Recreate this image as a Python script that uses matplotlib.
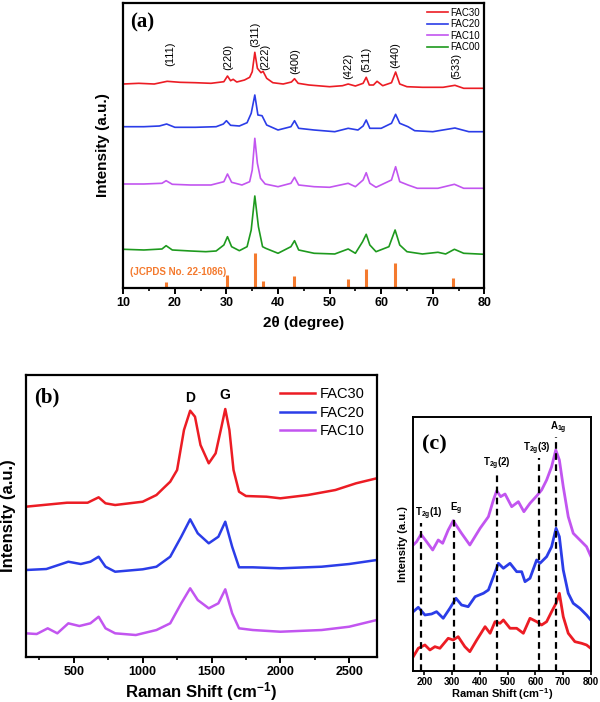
import numpy as np
import matplotlib.pyplot as plt

plt.rcParams['font.family'] = ['Liberation Sans', 'DejaVu Sans']
plt.rcParams['mathtext.fontset'] = 'custom'
plt.rcParams['mathtext.rm'] = 'Liberation Sans:bold'
plt.rcParams['mathtext.bf'] = 'Liberation Sans:bold'
plt.rcParams['mathtext.it'] = 'Liberation Sans:bold'

# ---- (a) XRD, 2theta / intensity (arb.) ----
xrd_30_t = [10, 13, 16, 18.5, 21, 24, 27, 29.5, 30.2, 30.8, 31.3, 32, 33.5, 34.5, 35.0, 35.5, 36.0, 36.7, 37.1,
            37.8, 39, 41, 42.6, 43.2, 43.9, 46, 50, 52.5, 53.6, 55, 56.5, 57.1, 57.7, 58.5, 59.2, 60.3, 62, 62.8,
            63.6, 65, 68, 72, 74.3, 76, 80]
xrd_30_i = [203.7, 204.4, 203.7, 206.4, 205.4, 205, 204.4, 206, 211.7, 207, 208.4, 205.7, 207.7, 210.4, 216, 235.4,
            219.4, 215, 216.4, 209.4, 205, 203.7, 205.7, 209, 204.4, 202.7, 201, 202, 203.7, 201.7, 204.4, 210.4,
            202.7, 202.7, 206.4, 202, 205, 215.7, 203.7, 201, 200.4, 200.4, 202.4, 199.4, 199.4]

xrd_20_t = [10, 14, 17, 18.4, 20, 24, 28, 29.4, 30, 30.8, 32.5, 34, 34.8, 35.5, 36.1, 36.9, 37.8, 40, 42.5, 43.2,
            44, 47, 51, 53.6, 55.5, 56.5, 57.1, 57.8, 60, 62, 62.8, 63.6, 65.2, 66.5, 70, 74.3, 77, 80]
xrd_20_i = [161, 161, 161.7, 163.7, 160.4, 160.4, 161, 163.7, 167, 162.4, 161.7, 165, 174.4, 192.7, 172.7, 172,
            162.7, 157.7, 161, 167, 159.4, 157.7, 156, 159.4, 157.7, 161.7, 167.7, 159.4, 159.4, 164.4, 173.4,
            164.4, 161, 157, 156, 159.7, 156, 156]

xrd_10_t = [10, 14, 17.5, 18.3, 19.5, 23, 27, 29.5, 30.2, 31, 33, 34.5, 35.0, 35.5, 36.0, 36.6, 37.5, 40, 42.5,
            43.2, 44, 47, 50, 53.6, 55, 56.5, 57.1, 57.8, 59, 62, 62.8, 63.6, 65.2, 67, 71, 74.2, 76, 80]
xrd_10_i = [103.7, 103.7, 104.4, 107, 103.4, 102.7, 102.7, 106, 113.7, 105.4, 102.7, 106, 117.7, 149.4, 124.4,
            109.4, 103.7, 101, 104.4, 110.4, 102.7, 101, 100.4, 104.4, 101, 107.7, 115, 104.4, 100.4, 107.7, 121,
            106, 102.7, 99.4, 99.4, 103.4, 99.4, 99.4]

xrd_00_t = [10, 14, 17.5, 18.3, 19.5, 23, 26, 28, 29.5, 30.2, 31, 32.5, 34, 34.8, 35.5, 36.2, 37, 37.6, 40, 42.5,
            43.2, 44, 47, 51, 53.6, 55, 56.4, 57.1, 57.8, 59, 61.5, 62.7, 63.6, 65, 68, 71, 72.5, 74.2, 76, 80]
xrd_00_i = [38.4, 37.7, 38.7, 42, 37.7, 36.7, 36, 36.7, 42.7, 51, 41, 37, 41, 57.7, 91.7, 61, 41, 39.4, 34.4, 41,
            47, 37.7, 34.4, 33.7, 38.7, 34.4, 46, 53.4, 42.7, 36, 41, 57.7, 42.7, 36, 33.7, 35.4, 33.7, 38.4, 34.4,
            33.4]

jcpds_t = [18.3, 30.1, 35.5, 37.1, 43.1, 53.5, 57.0, 62.6, 74.0]
jcpds_i = [5.4, 12.4, 35, 6.7, 11.7, 8.7, 18.7, 25, 9.7]

hkl = ['(111)', '(220)', '(311)', '(222)', '(400)', '(422)', '(511)', '(440)', '(533)']
hkl_t = [19.2, 30.4, 35.5, 37.5, 43.3, 53.6, 57.2, 62.8, 74.5]
hkl_y = [222, 217.7, 241, 217.7, 213.7, 208.7, 215.4, 219.4, 208.4]

# ---- (b) Raman, full range ----
rb_x = [150, 300, 450, 600, 680, 730, 800, 1000, 1100, 1150, 1200, 1250, 1300, 1345, 1380, 1420, 1480, 1530,
        1570, 1600, 1630, 1660, 1700, 1750, 1900, 2000, 2200, 2400, 2550, 2700]
rb_30 = [150, 152, 154, 154, 159.4, 153.4, 151.7, 155, 161.7, 168.4, 175, 186.7, 226.7, 246, 240, 211.7, 193.4,
         203.4, 228.4, 247.7, 226.7, 186.7, 165, 160.7, 160, 158.4, 161.7, 166.7, 173.4, 178.4]
rb20_x = [150, 300, 460, 550, 620, 680, 730, 800, 1000, 1100, 1200, 1280, 1345, 1400, 1480, 1550, 1600, 1650,
          1700, 1800, 2000, 2300, 2500, 2700]
rb_20 = [86.7, 87.7, 95, 92.7, 95, 100, 90, 85, 87.4, 90, 100, 120, 137.4, 123.4, 113.4, 120, 135, 110, 89.4,
         89.4, 88.4, 90, 92.7, 96.7]
rb10_x = [150, 230, 310, 380, 460, 540, 620, 680, 730, 800, 950, 1100, 1200, 1280, 1345, 1400, 1480, 1550, 1600,
          1650, 1700, 1800, 2000, 2300, 2500, 2700]
rb_10 = [23.4, 22.7, 28.4, 23.4, 33.4, 30.7, 33.4, 40, 28.4, 23.4, 21.7, 26.7, 33.4, 53.4, 68.4, 56.7, 48.4, 53.4,
         67.4, 43.4, 28.4, 26.7, 25, 26.7, 30, 36.7]

# ---- (c) Raman, low wavenumber ----
rc_x = [160, 172, 188, 208, 230, 250, 266, 286, 304, 334, 364, 401, 431, 449, 461, 475, 491, 515, 539, 559, 581,
        605, 623, 641, 659, 674, 687, 701, 719, 737, 761, 785, 800]
rc_10 = [126, 129.3, 136.7, 129.3, 121, 131, 127.7, 141, 150.3, 137.7, 126, 142.7, 154.3, 171, 180.3, 174.3, 177,
         164.3, 169.3, 159.3, 167.7, 175, 181, 191, 204.3, 221, 211, 184.3, 154.3, 137.7, 131, 124.3, 115]
rc20_x = [160, 178, 202, 226, 244, 268, 292, 314, 334, 358, 383, 413, 431, 449, 467, 485, 509, 533, 551, 563, 581,
          605, 617, 641, 659, 675, 687, 701, 719, 737, 761, 785, 800]
rc_20 = [59.3, 63.7, 56, 57, 59.3, 52.7, 62.7, 72.7, 66, 64.3, 74.3, 77.7, 81, 94.3, 107.7, 102.7, 107.7, 99.3,
         99.3, 89.3, 92.7, 111, 107.7, 114.3, 124.3, 142.7, 134.3, 101, 77.7, 67.7, 62.7, 56, 51]
rc30_x = [160, 178, 202, 220, 238, 256, 286, 304, 322, 346, 364, 389, 419, 437, 455, 473, 485, 509, 533, 557, 581,
          605, 623, 641, 659, 675, 687, 701, 719, 743, 767, 785, 800]
rc_30 = [14.3, 22.7, 26, 21, 24.3, 22.7, 32.7, 31, 34.3, 24.3, 19.3, 31, 44.3, 37.7, 49.3, 47.7, 51, 42.7, 42.7,
         37.7, 52.7, 49.3, 46, 49.3, 59.3, 67.7, 77.7, 54.3, 37.7, 29.3, 27.7, 26, 22.7]

modes = [r'T$_{2g}$(1)', r'E$_{g}$', r'T$_{2g}$(2)', r'T$_{2g}$(3)', r'A$_{1g}$']
mode_x = [188, 307, 461, 615, 674]
mode_top = [147.7, 152.7, 197.7, 212.7, 234.3]
mode_lx = [217, 313, 461, 605, 683]

RED = '#ec1c24'
BLUE = '#2b3de8'
MAG = '#c255f0'
GREEN = '#1e9a1e'
ORANGE = '#f47a2e'

fig = plt.figure(figsize=(6, 7.02), dpi=100)


def frame(ax, lw=1.6):
    for s in ax.spines.values():
        s.set_linewidth(lw)
    ax.set_yticks([])


# (a)
ax = fig.add_axes([0.2055, 0.5902, 0.6017, 0.4055])
ax.plot(xrd_30_t, xrd_30_i, color=RED, lw=1.2, label='FAC30')
ax.plot(xrd_20_t, xrd_20_i, color=BLUE, lw=1.2, label='FAC20')
ax.plot(xrd_10_t, xrd_10_i, color=MAG, lw=1.2, label='FAC10')
ax.plot(xrd_00_t, xrd_00_i, color=GREEN, lw=1.2, label='FAC00')
ax.vlines(jcpds_t, 0, jcpds_i, color=ORANGE, lw=2.2)
ax.text(11.3, 16, '(JCPDS No. 22-1086)', color=ORANGE, fontsize=7, fontweight='bold', va='center')
for lab, t, y in zip(hkl, hkl_t, hkl_y):
    ax.text(t, y, lab, rotation=90, fontsize=8, ha='center', va='bottom')
ax.text(0.02, 0.965, '(a)', transform=ax.transAxes, family='Liberation Serif', fontweight='bold',
        fontsize=15, va='top')
ax.set_xlim(10, 80)
ax.set_ylim(0, 284.7)
ax.set_xticks(range(10, 81, 10))
ax.set_xticks(range(15, 80, 10), minor=True)
ax.tick_params(axis='x', which='major', length=4, width=1.4, labelsize=9, pad=3)
ax.tick_params(axis='x', which='minor', length=2, width=1.2)
for lb in ax.get_xticklabels():
    lb.set_fontweight('bold')
ax.set_xlabel('2θ (degree)', fontsize=11, fontweight='bold')
ax.xaxis.set_label_coords(0.5, -0.1)
ax.set_ylabel('Intensity (a.u.)', fontsize=11, fontweight='bold')
ax.yaxis.set_label_coords(-0.037, 0.5)
frame(ax)
ax.legend(loc='upper right', bbox_to_anchor=(1.0, 1.0), fontsize=7, frameon=False, handlelength=2.2,
          handletextpad=0.2, labelspacing=0.15, borderaxespad=0.1)

# (b)
ax = fig.add_axes([0.0428, 0.0645, 0.585, 0.4013])
ax.plot(rb_x, rb_30, color=RED, lw=1.8, label='FAC30')
ax.plot(rb20_x, rb_20, color=BLUE, lw=1.8, label='FAC20')
ax.plot(rb10_x, rb_10, color=MAG, lw=1.8, label='FAC10')
ax.text(1345, 251.7, 'D', fontsize=10, fontweight='bold', ha='center', va='bottom')
ax.text(1600, 254.7, 'G', fontsize=10, fontweight='bold', ha='center', va='bottom')
ax.text(0.025, 0.955, '(b)', transform=ax.transAxes, family='Liberation Serif', fontweight='bold',
        fontsize=15, va='top')
ax.set_xlim(150, 2700)
ax.set_ylim(0, 281.7)
ax.set_xticks(range(500, 2501, 500))
ax.set_xticks(range(250, 2700, 500), minor=True)
ax.tick_params(axis='x', which='major', length=4, width=1.4, labelsize=9, pad=3)
ax.tick_params(axis='x', which='minor', length=2, width=1.2)
for lb in ax.get_xticklabels():
    lb.set_fontweight('bold')
ax.set_xlabel(r'Raman Shift (cm$^{-1}$)', fontsize=12, fontweight='bold')
ax.xaxis.set_label_coords(0.5, -0.082)
ax.set_ylabel('Intensity (a.u.)', fontsize=12, fontweight='bold')
ax.yaxis.set_label_coords(-0.028, 0.5)
frame(ax)
ax.legend(loc='upper right', bbox_to_anchor=(1.0, 1.0), fontsize=10.5, frameon=False, handlelength=2.4,
          handletextpad=0.3, labelspacing=0.3, borderaxespad=0.45)

# (c)
ax = fig.add_axes([0.6888, 0.0442, 0.2957, 0.3622])
ax.plot(rc_x, rc_10, color=MAG, lw=2)
ax.plot(rc20_x, rc_20, color=BLUE, lw=2)
ax.plot(rc30_x, rc_30, color=RED, lw=2)
ax.vlines(mode_x, 0, mode_top, colors='black', linestyles=(0, (3, 2)), lw=1.6)
for lab, lx, top in zip(modes, mode_lx, mode_top):
    ax.text(lx, top + 1, lab, fontsize=7, fontweight='bold', ha='center', va='bottom')
ax.text(0.05, 0.93, '(c)', transform=ax.transAxes, family='Liberation Serif', fontweight='bold',
        fontsize=16, va='top')
ax.set_xlim(160, 800)
ax.set_ylim(0, 254.3)
ax.set_xticks(range(200, 801, 100))
ax.tick_params(axis='x', which='major', length=3, width=1.2, labelsize=7, pad=1.5)
for lb in ax.get_xticklabels():
    lb.set_fontweight('bold')
ax.set_xlabel(r'Raman Shift (cm$^{-1}$)', fontsize=8, fontweight='bold')
ax.xaxis.set_label_coords(0.5, -0.058)
ax.set_ylabel('Intensity (a.u.)', fontsize=8, fontweight='bold')
ax.yaxis.set_label_coords(-0.03, 0.5)
frame(ax, 1.4)

fig.savefig('out.png', dpi=100)
